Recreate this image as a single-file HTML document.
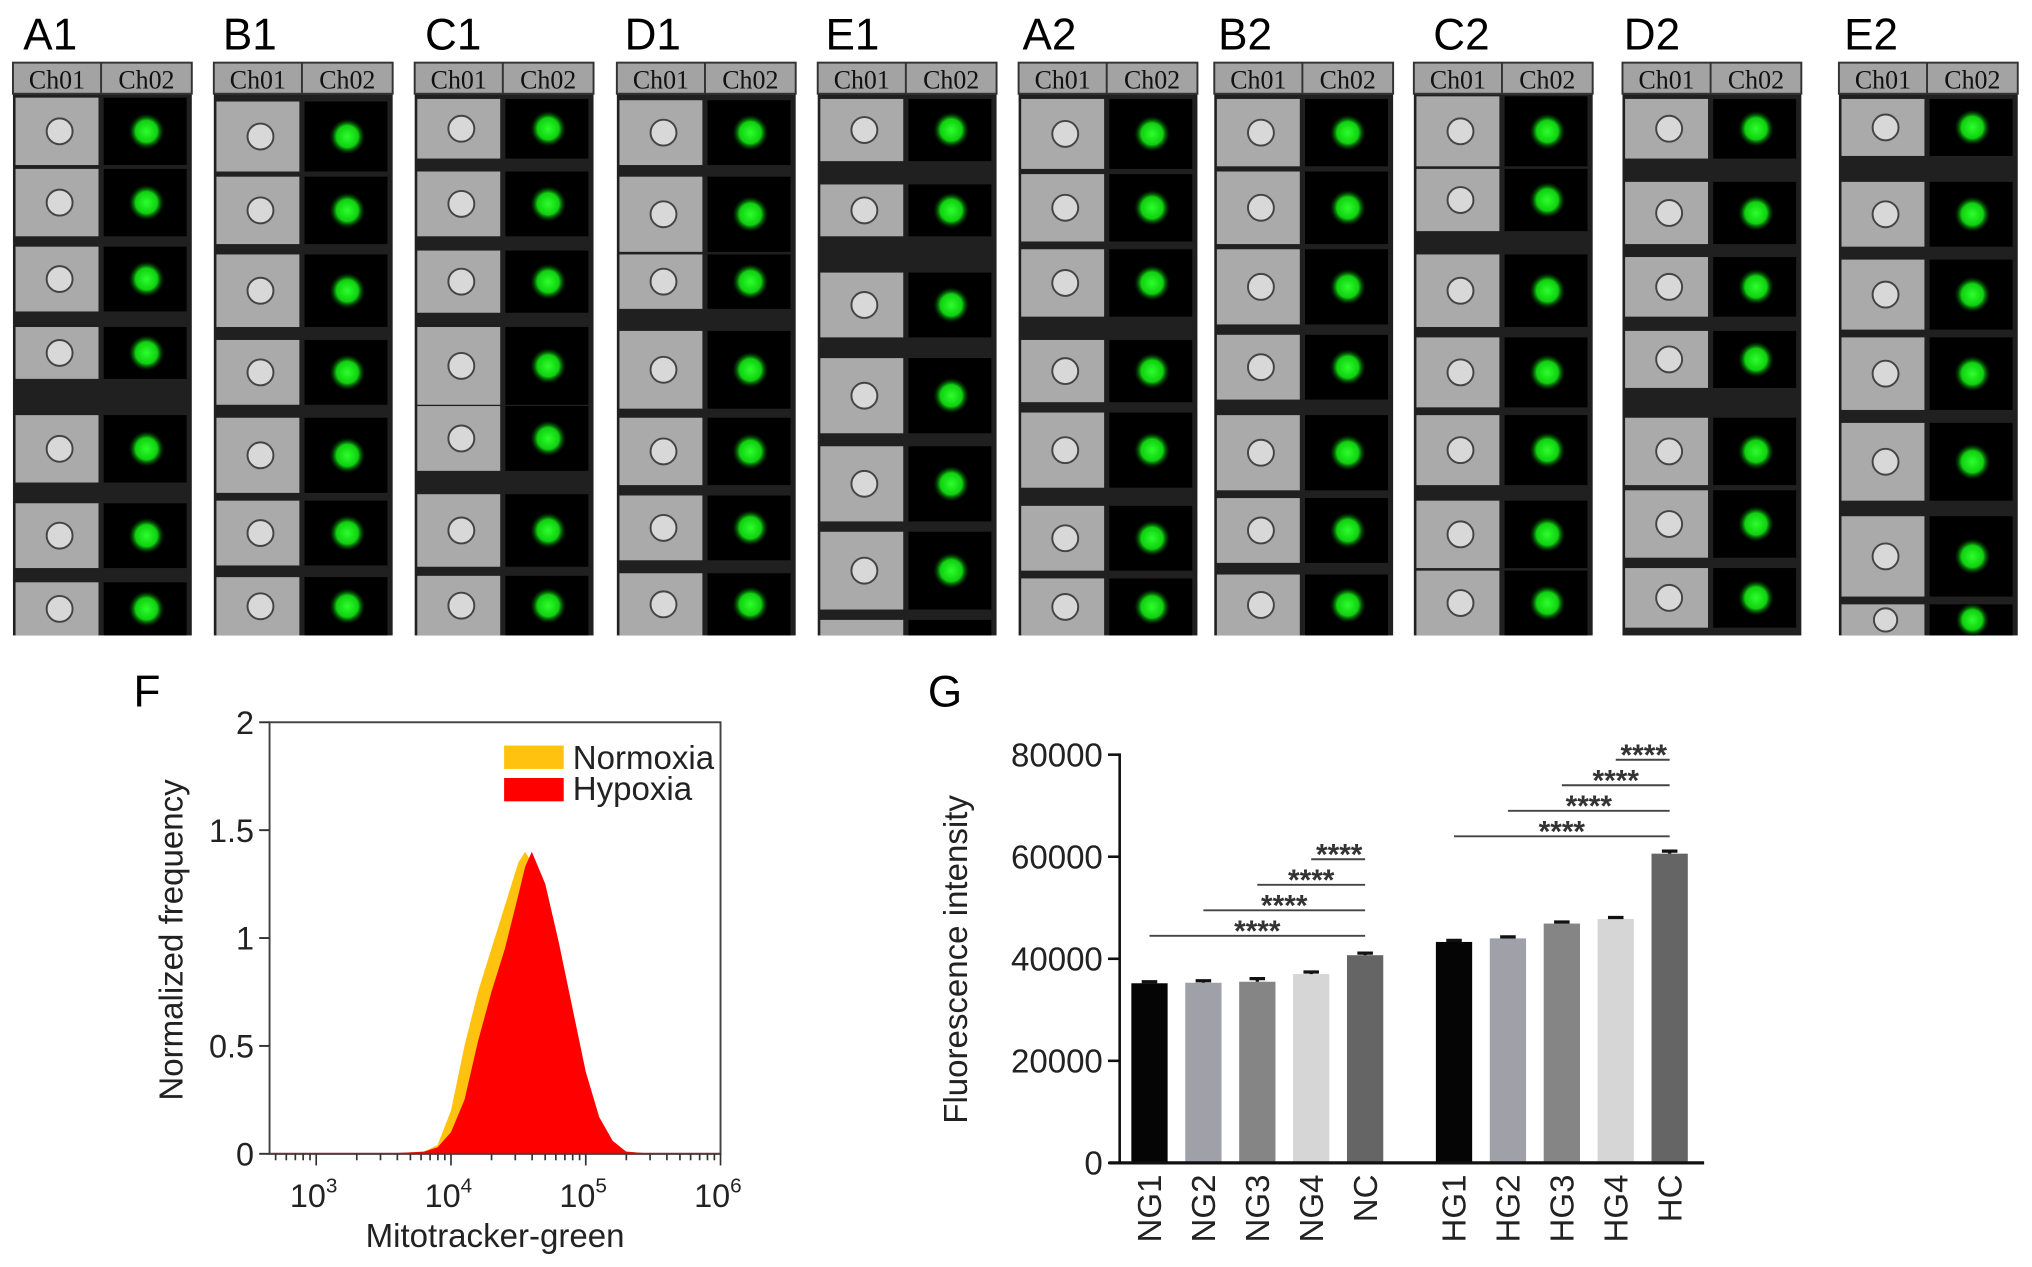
<!DOCTYPE html>
<html><head><meta charset="utf-8"><style>
html,body{margin:0;padding:0;background:#fff;}
svg{display:block;font-family:"Liberation Sans",sans-serif;}
</style></head><body>
<svg id="fig" width="2032" height="1267" viewBox="0 0 1568 977" xmlns="http://www.w3.org/2000/svg">
<defs>
<radialGradient id="gblob"><stop offset="0" stop-color="#2cff2c"/><stop offset="0.6" stop-color="#10d010"/><stop offset="1" stop-color="#003000" stop-opacity="0"/></radialGradient>
</defs>
<g id="thumbs"></g>
<g id="panelF"></g>
<g id="panelG"></g>
</svg>
<script>
const NS="http://www.w3.org/2000/svg";
function mk(parent,tag,attrs,text){const e=document.createElementNS(NS,tag);for(const k in attrs)e.setAttribute(k,attrs[k]);if(text!==undefined)e.textContent=text;parent.appendChild(e);return e;}

// ---------- Thumbnail strips ----------
const panelNames=["A1","B1","C1","D1","E1","A2","B2","C2","D2","E2"];
const panelX=[10,165,320,476,631,786,937,1091,1252,1419];
const labelX=[18,172,328,482,637,789,940,1106,1253,1423];
const rowsAll=[
[[75,52],[130,52],[190,50],[252,40],[320,52],[388,50],[449,41]],
[[78,54],[136,52],[196,56],[262,50],[322,58],[386,50],[445,45]],
[[76,46],[132,50],[193,48],[252,60],[313,50],[381,56],[444,46]],
[[77,50],[136,58],[196,42],[255,60],[322,52],[382,50],[442,48]],
[[76,48],[142,40],[210,50],[276,58],[344,58],[410,60],[478,12]],
[[76,54],[134,52],[192,52],[262,48],[318,58],[390,50],[446,44]],
[[76,52],[132,56],[192,58],[258,50],[320,58],[384,50],[443,47]],
[[74,54],[130,48],[196,56],[260,54],[320,54],[386,52],[440,50]],
[[76,46],[140,48],[198,46],[255,44],[322,52],[378,52],[438,46]],
[[76,44],[140,50],[200,54],[260,56],[326,60],[398,62],[466,24]]];
const thumbs=document.getElementById('thumbs');
panelNames.forEach((nm,i)=>{
  const x=panelX[i];
  const g=mk(thumbs,'g',{});
  
  
  const lb=mk(g,'text',{x:labelX[i],y:38,'font-size':34,fill:'#000'},nm);
  
  
  mk(g,'rect',{x:x,y:72,width:138,height:418,fill:'#202020'});
  const hd=mk(g,'rect',{x:x,y:48,width:138,height:24,fill:'#a3a3a3',stroke:'#333','stroke-width':1.5});
  
  
  mk(g,'line',{x1:x+68,y1:48,x2:x+68,y2:72,stroke:'#333','stroke-width':1.5});
  mk(g,'text',{x:x+34,y:68,'font-size':20,'text-anchor':'middle','font-family':'Liberation Serif, serif',fill:'#111'},'Ch01');
  mk(g,'text',{x:x+103,y:68,'font-size':20,'text-anchor':'middle','font-family':'Liberation Serif, serif',fill:'#111'},'Ch02');
  rowsAll[i].forEach(([t,h],j)=>{
    const bf=mk(g,'rect',{x:x+2,y:t,width:64,height:h,fill:'#aaaaaa'});
    
    
    const fl=mk(g,'rect',{x:x+70,y:t,width:64,height:h,fill:'#000'});
    
    
    const cy=t+h/2, r=Math.min(10,h/2-3);
    if(r>3){
      mk(g,'circle',{cx:x+36,cy:cy,r:r,fill:'#d8d8d8',stroke:'#444','stroke-width':1.5});
      mk(g,'circle',{cx:x+103,cy:cy,r:r+4,fill:'url(#gblob)'});
    }
  });
});

// ---------- Panel F: histogram ----------
const fLogX=[3.5,3.8,3.9,4.0,4.1,4.2,4.3,4.4,4.5,4.55,4.6,4.7,4.8,4.9,5.0,5.1,5.2,5.3,5.5];
const fNormoxia=[0,0.01,0.04,0.2,0.5,0.75,0.95,1.15,1.35,1.4,1.35,1.15,0.9,0.6,0.3,0.12,0.04,0.01,0];
const fHypoxia=[0,0.01,0.03,0.1,0.25,0.52,0.75,0.95,1.2,1.33,1.4,1.25,0.98,0.68,0.38,0.17,0.06,0.01,0];
const fYTicks=[0,0.5,1,1.5,2];
const fYTickLabels=["0","0.5","1","1.5","2"];
const fXDecades=[3,4,5,6];
const F={l:208,r:556,t:557,b:890};
const fx=l=>244+104*(l-3);
const fy=v=>F.b-(F.b-F.t)*v/2;
const pF=document.getElementById('panelF');
let t=mk(pF,'text',{x:103,y:545,'font-size':34},'F');

function area(vals,color,name){
  let d='M'+fx(fLogX[0])+','+fy(0);
  fLogX.forEach((l,i)=>{d+=' L'+fx(l).toFixed(1)+','+fy(vals[i]).toFixed(1);});
  d+=' L'+fx(fLogX[fLogX.length-1])+','+fy(0)+' Z';
  const p=mk(pF,'path',{d:d,fill:color});
  
}
area(fNormoxia,'#ffc20e','normoxia-histogram');
area(fHypoxia,'#ff0000','hypoxia-histogram');
mk(pF,'line',{x1:F.l,y1:F.b,x2:F.r,y2:F.b,stroke:'#e00000','stroke-width':1.5});
const fb=mk(pF,'rect',{x:F.l,y:F.t,width:F.r-F.l,height:F.b-F.t,fill:'none',stroke:'#444','stroke-width':1.5});

fYTicks.forEach((v,i)=>{
  mk(pF,'line',{x1:F.l-8,y1:fy(v),x2:F.l,y2:fy(v),stroke:'#333','stroke-width':1.5});
  const tl=mk(pF,'text',{x:F.l-12,y:fy(v)+9,'font-size':25,'text-anchor':'end',fill:'#222'},fYTickLabels[i]);
  
});
for(let dcd=2;dcd<6;dcd++){for(let k=1;k<10;k++){const lx=dcd+Math.log10(k);const px=fx(lx);if(px<F.l||px>F.r)continue;
  mk(pF,'line',{x1:px,y1:F.b,x2:px,y2:F.b+(k===1?9:5),stroke:'#333','stroke-width':1.3});}}
mk(pF,'line',{x1:F.r,y1:F.b,x2:F.r,y2:F.b+9,stroke:'#333','stroke-width':1.3});
fXDecades.forEach(dcd=>{
  const tx=mk(pF,'text',{x:fx(dcd)-2,y:931,'font-size':25,'text-anchor':'middle',fill:'#222'});
  
  mk(tx,'tspan',{},'10');mk(tx,'tspan',{dy:-11,'font-size':16},String(dcd));
});
t=mk(pF,'text',{x:382,y:962,'font-size':25.5,'text-anchor':'middle',fill:'#222'},'Mitotracker-green');

t=mk(pF,'text',{x:0,y:0,'font-size':25.5,'text-anchor':'middle',fill:'#222',transform:'translate(141,725) rotate(-90)'},'Normalized frequency');

let lg=mk(pF,'g',{});
mk(lg,'rect',{x:389,y:575,width:46,height:18,fill:'#ffc20e'});
mk(lg,'text',{x:442,y:593,'font-size':25.5,fill:'#222'},'Normoxia');
lg=mk(pF,'g',{});
mk(lg,'rect',{x:389,y:600,width:46,height:18,fill:'#ff0000'});
mk(lg,'text',{x:442,y:617,'font-size':25.5,fill:'#222'},'Hypoxia');

// ---------- Panel G: bar chart ----------
const gCategories=["NG1","NG2","NG3","NG4","NC","HG1","HG2","HG3","HG4","HC"];
const gValues=[35200,35300,35500,37000,40700,43300,44000,46900,47800,60600];
const gErrors=[300,400,600,400,400,300,300,300,300,500];
const gYTicks=[0,20000,40000,60000,80000];
const gColors=["#050505","#a0a0a8","#858585","#d6d6d6","#656565","#050505","#a0a0a8","#858585","#d6d6d6","#656565"];
const gSigPairs=[[0,4],[1,4],[2,4],[3,4],[5,9],[6,9],[7,9],[8,9]];
const gSigLevels=[44500,49500,54500,59500,64000,69000,74000,79000];
const G={l:864,r:1315,t:582,b:897};
const gy=v=>G.b-(G.b-G.t)*v/80000;
const gx=i=>(i<5?887+i*41.6:1122+(i-5)*41.6);
const pG=document.getElementById('panelG');
t=mk(pG,'text',{x:716,y:545,'font-size':34},'G');

gValues.forEach((v,i)=>{
  const b=mk(pG,'rect',{x:gx(i)-14,y:gy(v),width:28,height:G.b-gy(v),fill:gColors[i]});
  
  const e=mk(pG,'path',{d:'M'+(gx(i)-6)+','+gy(v+gErrors[i])+' H'+(gx(i)+6)+' M'+gx(i)+','+gy(v+gErrors[i])+' V'+gy(v),stroke:'#111','stroke-width':2.5,fill:'none'});
  
  const xl=mk(pG,'text',{x:0,y:0,'font-size':25.5,'text-anchor':'end',fill:'#222',transform:'translate('+(gx(i)+9)+',906) rotate(-90)'},gCategories[i]);
  
});
mk(pG,'line',{x1:G.l,y1:G.t-1,x2:G.l,y2:G.b,stroke:'#111','stroke-width':2});
mk(pG,'line',{x1:G.l-8,y1:G.b,x2:G.r,y2:G.b,stroke:'#111','stroke-width':2.5});
gYTicks.forEach(v=>{
  mk(pG,'line',{x1:G.l-9,y1:gy(v),x2:G.l,y2:gy(v),stroke:'#111','stroke-width':2});
  const tl=mk(pG,'text',{x:G.l-13,y:gy(v)+9,'font-size':25.5,'text-anchor':'end',fill:'#222'},String(v));
  
});
t=mk(pG,'text',{x:0,y:0,'font-size':25.5,'text-anchor':'middle',fill:'#222',transform:'translate(746,740) rotate(-90)'},'Fluorescence intensity');

gSigPairs.forEach(([a,b],k)=>{
  const yy=gy(gSigLevels[k]);
  const ln=mk(pG,'line',{x1:gx(a),y1:yy,x2:gx(b),y2:yy,stroke:'#444','stroke-width':1.5});
  
  const sx=(a===b-1)?gx(b)-20:(gx(a)+gx(b))/2;
  const st=mk(pG,'text',{x:sx,y:yy+4,'font-size':23,'text-anchor':'middle',fill:'#333','font-weight':'bold'},'****');
  
});
</script>
</body></html>
